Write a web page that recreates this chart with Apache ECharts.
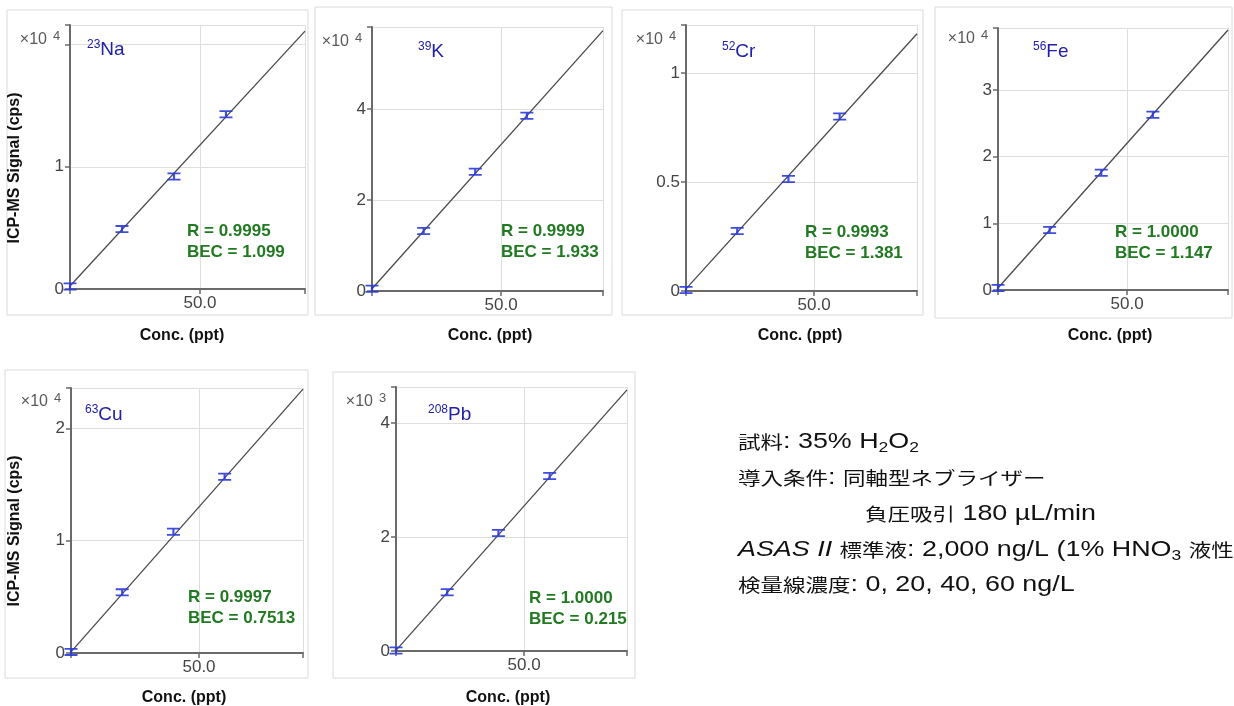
<!DOCTYPE html>
<html>
<head>
<meta charset="utf-8">
<script src="https://cdn.jsdelivr.net/npm/echarts@6/dist/echarts.min.js"></script>
<style>html,body{margin:0;padding:0;background:#fff}#c{width:1234px;height:706px}</style>
</head>
<body>
<div id="c"></div>
<script>
// Concentrations (ppt = ng/L)
const conc = [0, 20, 40, 60];
// Signals (in units of the axis exponent)
const naSignal = [0.02, 0.49, 0.92, 1.43];   // x10^4
const kSignal  = [0.05, 1.32, 2.62, 3.85];   // x10^4
const crSignal = [0.005, 0.275, 0.514, 0.80];// x10^4
const feSignal = [0.03, 0.90, 1.76, 2.63];   // x10^4
const cuSignal = [0.01, 0.54, 1.08, 1.57];   // x10^4
const pbSignal = [0.01, 1.03, 2.07, 3.07];   // x10^3
// Fitted calibration line endpoints [conc, signal]
const naFit = [[0, 0.025], [90.4, 2.11]];
const kFit  = [[0, 0.05], [89.5, 5.72]];
const crFit = [[0, 0.01], [90.2, 1.18]];
const feFit = [[0, 0.03], [89.1, 3.9]];
const cuFit = [[0, 0.01], [90.6, 2.35]];
const pbFit = [[0, 0.01], [90.2, 4.58]];
// Tick labels shown on each y axis
const naTicks = [0, 1];
const kTicks  = [0, 2, 4];
const crTicks = [0, 0.5, 1];
const feTicks = [0, 1, 2, 3];
const cuTicks = [0, 1, 2];
const pbTicks = [0, 2, 4];
const xTickLabels = {50: '50.0'};
// Labels
const isotopes = [['23','Na'],['39','K'],['52','Cr'],['56','Fe'],['63','Cu'],['208','Pb']];
const exponents = ['4','4','4','4','4','3'];
const rValues = ['0.9995','0.9999','0.9993','1.0000','0.9997','1.0000'];
const becValues = ['1.099','1.933','1.381','1.147','0.7513','0.215'];
const noteLines = [
  [['', '試料: 35% H'], ['b','2'], ['', 'O'], ['b','2']],
  [['', '導入条件: 同軸型ネブライザー']],
  [['', '負圧吸引 180 µL/min']],
  [['i', 'ASAS II'], ['', ' 標準液: 2,000 ng/L (1% HNO'], ['b','3'], ['', ' 液性)']],
  [['', '検量線濃度: 0, 20, 40, 60 ng/L']]
];

const signals = [naSignal, kSignal, crSignal, feSignal, cuSignal, pbSignal];
const fits = [naFit, kFit, crFit, feFit, cuFit, pbFit];
const ticks = [naTicks, kTicks, crTicks, feTicks, cuTicks, pbTicks];

// layout
const grids = [
  {left:70, top:25, width:235, height:264},
  {left:372, top:27, width:231, height:264},
  {left:686, top:25, width:231, height:266},
  {left:998, top:28, width:230, height:262},
  {left:71, top:388, width:232, height:265},
  {left:396, top:387, width:231, height:264}
];
const xMax = [90.4, 89.5, 90.2, 89.1, 90.6, 90.2];
const yMax = [2.16, 5.8, 1.22, 3.93, 2.36, 4.63];
const yInt = [1, 2, 0.5, 1, 1, 2];
const frames = [
  [7,10,301,305],[315,7,297,308],[622,10,301,305],[935,7,297,311],
  [5,370,303,308],[333,372,302,306]
];
const expY = [40, 42, 40, 39, 402, 402];
const isoPos = [[87,50],[418,52],[722,52],[1033,52],[85,415],[428,415]];
const rPos = [[187,221],[501,221],[805,222],[1115,222],[188,587],[529,588]];
const concPos = [[182,336],[490,336],[800,336],[1110,336],[184,698],[508,698]];
const notePos = [[738,442],[738,478],[865,514],[738,550],[738,585]];

const narrow = '"Liberation Sans Narrow","Liberation Sans",Arial,sans-serif';
const sans = '"Liberation Sans",Arial,"Noto Sans CJK JP",sans-serif';
const cjk = '"Noto Sans CJK JP","Liberation Sans",sans-serif';
const errSym = 'path://M0,0 L12,0 L12,2 L7,2 L7,7 L12,7 L12,9 L0,9 L0,7 L5,7 L5,2 L0,2 Z';

// split text into CJK / Latin rich tokens
function richLine(segs) {
  let out = '';
  segs.forEach(([st, txt]) => {
    if (st) { out += '{' + st + '|' + txt + '}'; return; }
    const re = /([\u3000-\u30ff\u3400-\u9fff\uff00-\uffef]+)|([^\u3000-\u30ff\u3400-\u9fff\uff00-\uffef]+)/g;
    let m;
    while ((m = re.exec(txt)) !== null) {
      if (m[1]) out += '{j|' + m[1] + '}';
      else out += '{l|' + m[2] + '}';
    }
  });
  return out;
}

const option = {
  animation: false,
  backgroundColor: '#fff',
  grid: grids.map(g => Object.assign({containLabel:false}, g)),
  xAxis: grids.map((g,i) => ({
    type:'value', gridIndex:i, min:0, max:xMax[i], interval:50,
    axisLine:{show:true, onZero:false, lineStyle:{color:'#6a6a6a', width:2}},
    axisTick:{show:true, length:5, lineStyle:{color:'#6a6a6a', width:1.5}},
    splitLine:{show:true, lineStyle:{color:'#dedede', width:1}},
    axisLabel:{show:true, color:'#444', fontFamily:narrow, fontSize:17, margin:6,
      formatter: v => xTickLabels[v] || ''}
  })),
  yAxis: grids.map((g,i) => ({
    type:'value', gridIndex:i, min:0, max:yMax[i], interval:yInt[i],
    axisLine:{show:true, onZero:false, lineStyle:{color:'#6a6a6a', width:2}},
    axisTick:{show:true, length:5, lineStyle:{color:'#6a6a6a', width:1.5}},
    splitLine:{show:true, lineStyle:{color:'#dedede', width:1}},
    axisLabel:{show:true, color:'#444', fontFamily:narrow, fontSize:17, margin:6,
      formatter: v => (ticks[i].some(t => Math.abs(t - v) < 1e-9) ? String(v) : '')}
  })),
  series: [].concat(...grids.map((g,i) => [
    {type:'line', xAxisIndex:i, yAxisIndex:i, data:fits[i], showSymbol:false, silent:true,
      lineStyle:{color:'#4a4a4a', width:1.3}, z:3},
    {type:'scatter', xAxisIndex:i, yAxisIndex:i, data:conc.map((c,k)=>[c, signals[i][k]]),
      symbol:errSym, symbolSize:[13,8], itemStyle:{color:'#2a3ad8', opacity:0.9}, z:4}
  ])),
  graphic: [].concat(
    frames.map(f => ({type:'rect', z:-1, silent:true,
      shape:{x:f[0], y:f[1], width:f[2], height:f[3]},
      style:{fill:'none', stroke:'#dadada', lineWidth:1}})),
    grids.map((g,i) => ({type:'text', x:g.left - 23, y:expY[i], z:10,
      style:{text:'×10', fill:'#5a5a5a', fontFamily:sans, fontSize:16,
        align:'right', verticalAlign:'middle'}})),
    grids.map((g,i) => ({type:'text', x:g.left - 17, y:expY[i] - 4, z:10,
      style:{text:exponents[i], fill:'#5a5a5a', fontFamily:sans, fontSize:13,
        align:'left', verticalAlign:'middle'}})),
    isoPos.map((p,i) => ({type:'text', x:p[0], y:p[1], z:10,
      style:{text:'{s|' + isotopes[i][0] + '}{m|' + isotopes[i][1] + '}', fill:'#2020a8',
        align:'left', verticalAlign:'middle',
        rich:{s:{fontSize:12, fill:'#2020a8', fontFamily:sans, verticalAlign:'top', lineHeight:22},
              m:{fontSize:19, fill:'#2020a8', fontFamily:sans, lineHeight:22}}}})),
    rPos.map((p,i) => ({type:'text', x:p[0], y:p[1], z:10,
      style:{text:'R = ' + rValues[i] + '\nBEC = ' + becValues[i], fill:'#217a21',
        fontFamily:sans, fontWeight:'bold', fontSize:17, lineHeight:21,
        align:'left', verticalAlign:'top'}})),
    concPos.map(p => ({type:'text', x:p[0], y:p[1], z:10,
      style:{text:'Conc. (ppt)', fill:'#111', fontFamily:sans, fontWeight:'bold', fontSize:16,
        align:'center', verticalAlign:'middle'}})),
    [[15,168],[15,531]].map(p => ({type:'text', x:p[0], y:p[1], rotation:Math.PI/2, z:10,
      style:{text:'ICP-MS Signal (cps)', fill:'#111', fontFamily:sans, fontWeight:'bold', fontSize:16,
        align:'center', verticalAlign:'middle'}})),
    noteLines.map((segs, k) => ({type:'text', x:notePos[k][0], y:notePos[k][1], z:10,
      scaleX:1.25, scaleY:1,
      style:{text:richLine(segs), fill:'#111', fontFamily:sans, fontSize:21.5, lineHeight:26,
        align:'left', verticalAlign:'middle',
        rich:{l:{fontSize:21.5, fill:'#111', fontFamily:sans, lineHeight:26},
              j:{fontSize:18, fill:'#111', fontFamily:cjk, lineHeight:26},
              b:{fontSize:14, fill:'#111', fontFamily:sans, verticalAlign:'bottom', lineHeight:22},
              i:{fontSize:21.5, fill:'#111', fontFamily:sans, fontStyle:'italic', lineHeight:26}}}}))
  )
};
const chart = echarts.init(document.getElementById('c'), null, {renderer:'canvas'});
chart.setOption(option);
</script>
</body>
</html>
